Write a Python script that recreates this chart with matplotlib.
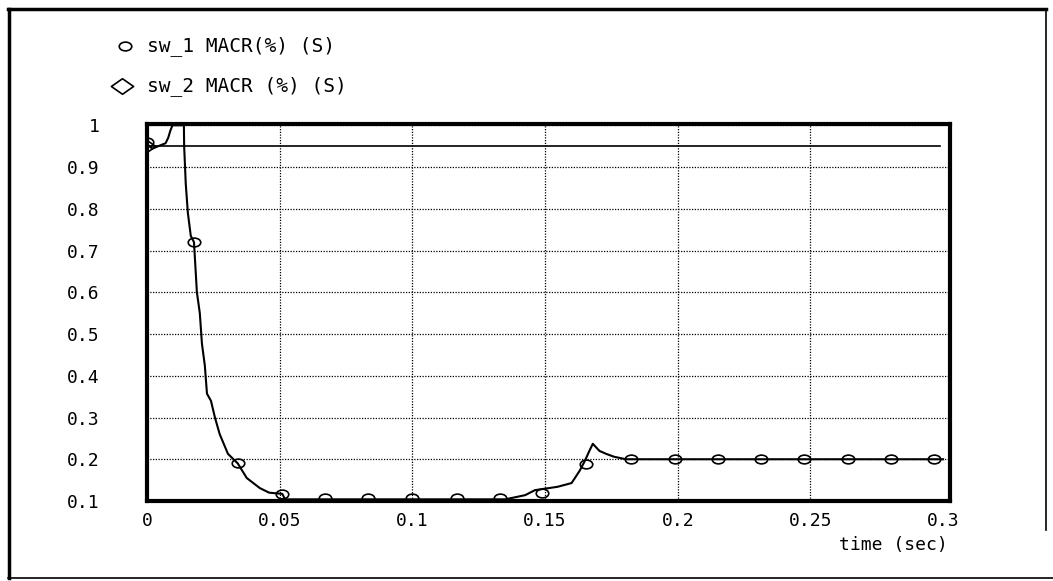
import matplotlib
matplotlib.use('Agg')  # no display
import matplotlib.pyplot as plt
from matplotlib.path import Path
from matplotlib.transforms import Affine2D
from matplotlib.lines import Line2D

# ---- data ----
sw1_t = [0, 0.002, 0.0043, 0.007, 0.008, 0.0088, 0.0096, 0.0139, 0.0140,
         0.0146, 0.0154, 0.0165, 0.0177, 0.0188, 0.0199, 0.0207, 0.0218,
         0.0226, 0.0241, 0.0256, 0.0274, 0.0305, 0.0342, 0.0376, 0.0425,
         0.046, 0.051, 0.052, 0.135, 0.1425, 0.1462, 0.1547, 0.16, 0.163,
         0.165, 0.1667, 0.168, 0.1705, 0.173, 0.176, 0.1805, 0.3]
sw1_v = [0.955, 0.944, 0.95, 0.957, 0.97, 0.987, 1.0, 1.0, 0.95,
         0.86, 0.79, 0.735, 0.72, 0.6, 0.55, 0.477, 0.424,
         0.357, 0.34, 0.3, 0.26, 0.213, 0.19, 0.155, 0.131,
         0.12, 0.117, 0.104, 0.104, 0.114, 0.126, 0.134, 0.143, 0.172,
         0.196, 0.22, 0.237, 0.22, 0.213, 0.206, 0.2, 0.2]

# marker positions of sw_1
sw1_mark_t = [0, 0.0177, 0.0342, 0.051, 0.067, 0.0833, 0.0998, 0.1167, 0.1329,
              0.149, 0.1656, 0.1825, 0.1988, 0.2151, 0.2314, 0.2477, 0.264,
              0.2803, 0.2966]
sw1_mark_v = [0.96, 0.72, 0.19, 0.117, 0.106, 0.106, 0.106, 0.106, 0.106,
              0.12, 0.189, 0.2, 0.2, 0.2, 0.2, 0.2, 0.2, 0.2, 0.2]

sw2_t = [0, 0.299]
sw2_v = [0.95, 0.95]

x_ticks = [0, 0.05, 0.1, 0.15, 0.2, 0.25, 0.3]
x_labels = ['0', '0.05', '0.1', '0.15', '0.2', '0.25', '0.3']
y_ticks = [0.1, 0.2, 0.3, 0.4, 0.5, 0.6, 0.7, 0.8, 0.9, 1.0]
y_labels = ['0.1', '0.2', '0.3', '0.4', '0.5', '0.6', '0.7', '0.8', '0.9', '1']

legend_labels = ['sw_1 MACR(%) (S)', 'sw_2 MACR (%) (S)']

# ---- markers: flattened ellipse and diamond ----
ellipse = Path.unit_circle().transformed(Affine2D().scale(1, 0.7))
diamond = Path([(0, 1), (1, 0), (0, -1), (-1, 0), (0, 1)],
               [Path.MOVETO, Path.LINETO, Path.LINETO, Path.LINETO, Path.CLOSEPOLY]
               ).transformed(Affine2D().scale(1, 0.7))

font = 'DejaVu Sans Mono'

W, H = 1053, 581
fig = plt.figure(figsize=(W / 100, H / 100), dpi=100)
ax = fig.add_axes([147 / W, 1 - 501 / H, (950 - 147) / W, (501 - 124) / H])

ax.plot(sw1_t, sw1_v, color='black', lw=1.5)
ax.plot(sw1_mark_t, sw1_mark_v, ls='none', marker=ellipse, ms=9,
        mfc='none', mec='black', mew=1.2)
ax.plot(sw2_t, sw2_v, color='black', lw=1.2, marker=diamond, markevery=[0],
        ms=12, mfc='none', mec='black', mew=1.2)

ax.set_xlim(0, 0.3026)
ax.set_ylim(0.1, 1.003)
ax.set_xticks(x_ticks)
ax.set_xticklabels(x_labels, fontfamily=font, fontsize=13)
ax.set_yticks(y_ticks)
ax.set_yticklabels(y_labels, fontfamily=font, fontsize=13)
ax.tick_params(axis='both', length=0)
ax.tick_params(axis='x', pad=8)
ax.tick_params(axis='y', pad=34)

ax.grid(True, color='black', linestyle=(0, (1, 1.2)), linewidth=0.9)
# the 0.3 grid line sits on the right frame in the original, so hide it
ax.get_xgridlines()[-1].set_visible(False)
for s in ax.spines.values():
    s.set_linewidth(3)

fig.text(948 / W, 1 - 545 / H, 'time (sec)', ha='right', va='center',
         fontfamily=font, fontsize=13)

# legend drawn by hand at the top
fig.add_artist(Line2D([125 / W], [1 - 46 / H], transform=fig.transFigure,
                      marker=ellipse, ms=9, mfc='none', mec='black', mew=1.2))
fig.add_artist(Line2D([122 / W], [1 - 86 / H], transform=fig.transFigure,
                      marker=diamond, ms=16, mfc='none', mec='black', mew=1.2))
fig.text(147 / W, 1 - 46 / H, legend_labels[0], va='center',
         fontfamily=font, fontsize=14)
fig.text(147 / W, 1 - 86 / H, legend_labels[1], va='center',
         fontfamily=font, fontsize=14)

# outer frame of the window
fig.add_artist(Line2D([8 / W, 1046 / W], [1 - 9 / H, 1 - 9 / H],
                      transform=fig.transFigure, color='black', lw=2.5))
fig.add_artist(Line2D([9 / W, 9 / W], [1 - 9 / H, 1 - 578 / H],
                      transform=fig.transFigure, color='black', lw=2.5))
fig.add_artist(Line2D([8 / W, 1053 / W], [1 - 578 / H, 1 - 578 / H],
                      transform=fig.transFigure, color='black', lw=1.2))
fig.add_artist(Line2D([1046 / W, 1046 / W], [1 - 9 / H, 1 - 530 / H],
                      transform=fig.transFigure, color='black', lw=1.2))

plt.savefig('out.png', dpi=100)
